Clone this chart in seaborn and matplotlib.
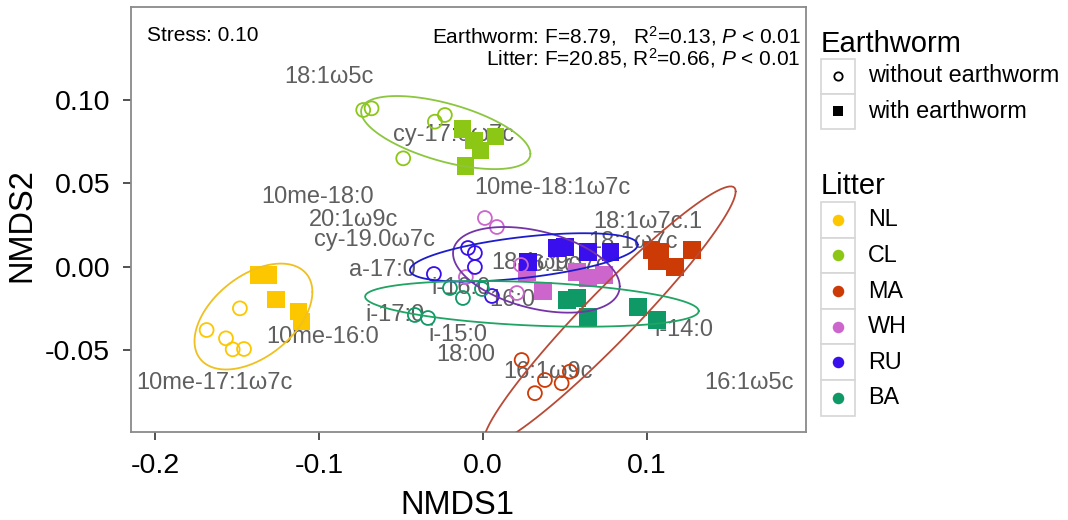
import numpy as np
import pandas as pd
import matplotlib
matplotlib.use("Agg")
import matplotlib.pyplot as plt
from matplotlib.patches import Rectangle
import seaborn as sns

# ---- data ----
litter_levels = ["NL", "CL", "MA", "WH", "RU", "BA"]
worm_levels = ["without earthworm", "with earthworm"]
worm = ["without earthworm"] * 5 + ["with earthworm"] * 5

# NMDS scores, first 5 = without earthworm, last 5 = with earthworm
NL_x = [-0.1685, -0.1482, -0.1567, -0.1526, -0.1457, -0.1370, -0.1309, -0.1262, -0.1126, -0.1105]
NL_y = [-0.0380, -0.0250, -0.0430, -0.0496, -0.0494, -0.0050, -0.0050, -0.0196, -0.0270, -0.0330]
CL_x = [-0.0730, -0.0679, -0.0293, -0.0232, -0.0486, -0.0126, 0.0077, -0.0055, -0.0014, -0.0105]
CL_y = [0.0940, 0.0950, 0.0870, 0.0910, 0.0650, 0.0826, 0.0780, 0.0756, 0.0696, 0.0604]
MA_x = [0.0236, 0.0378, 0.0480, 0.0530, 0.0317, 0.1030, 0.1079, 0.1061, 0.1171, 0.1274]
MA_y = [-0.0560, -0.0680, -0.0699, -0.0630, -0.0759, 0.0100, 0.0088, 0.0034, -0.0002, 0.0100]
WH_x = [0.0012, 0.0085, -0.0104, 0.0232, 0.0207, 0.0268, 0.0366, 0.0573, 0.0640, 0.0738]
WH_y = [0.0292, 0.0238, -0.0062, 0.0010, -0.0158, -0.0032, -0.0146, -0.0032, -0.0068, -0.0050]
RU_x = [-0.0091, -0.0049, -0.0049, -0.0299, 0.0055, 0.0274, 0.0451, 0.0500, 0.0640, 0.0780]
RU_y = [0.0112, 0.0082, -0.0002, -0.0044, -0.0176, 0.0028, 0.0112, 0.0118, 0.0088, 0.0088]
BA_x = [-0.0201, -0.0122, -0.0006, -0.0415, -0.0335, 0.0512, 0.0573, 0.0640, 0.0945, 0.1061]
BA_y = [-0.0128, -0.0188, -0.0134, -0.0290, -0.0308, -0.0200, -0.0188, -0.0302, -0.0242, -0.0320]

# PLFA species scores (text labels)
plfa = ["18:1ω5c", "cy-17:0ω7c", "10me-18:1ω7c", "10me-18:0", "20:1ω9c", "cy-19.0ω7c",
        "a-17:0", "i-16:0", "16:0", "18:1ω9c", "16:1ω7c", "18:1ω7c.1", "18:1ω7c",
        "i-17:0", "i-15:0", "18:00", "10me-16:0", "10me-17:1ω7c", "16:1ω9c", "i-14:0", "16:1ω5c"]
plfa_x = [-0.0939, -0.0177, 0.0421, -0.1006, -0.0787, -0.0659,
          -0.0610, -0.0134, 0.0177, 0.0323, 0.0488, 0.1006, 0.0915,
          -0.0537, -0.0152, -0.0104, -0.0976, -0.1640, 0.0396, 0.1226, 0.1622]
plfa_y = [0.1138, 0.0790, 0.0472, 0.0418, 0.0280, 0.0160,
          -0.0020, -0.0130, -0.0200, 0.0022, 0.0010, 0.0268, 0.0148,
          -0.0290, -0.0410, -0.0530, -0.0422, -0.0698, -0.0632, -0.0380, -0.0698]

stress_txt = "Stress: 0.10"
worm_txt = "Earthworm: F=8.79,   R$^2$=0.13, $P$ < 0.01"
litter_txt = "Litter: F=20.85, R$^2$=0.66, $P$ < 0.01"

point_colors = ["#FDC700", "#8DC716", "#CC3A06", "#CC66CC", "#3A0FEE", "#0F9966"]
line_colors = ["#F0C020", "#8CC63E", "#B84A36", "#7434A8", "#1C1CCC", "#1FA463"]

frames = []
for lev, xs, ys in zip(litter_levels, [NL_x, CL_x, MA_x, WH_x, RU_x, BA_x],
                       [NL_y, CL_y, MA_y, WH_y, RU_y, BA_y]):
    frames.append(pd.DataFrame({"NMDS1": xs, "NMDS2": ys, "Litter": lev, "Earthworm": worm}))
df = pd.concat(frames, ignore_index=True)


def t_ellipse(x, y, level=0.83, nu=5, segments=100):
    # same recipe as ggplot2 stat_ellipse (type = "t"): robust cov.trob + F radius
    pts = np.column_stack([x, y])
    n, p = pts.shape
    w = np.ones(n)
    loc = pts.mean(axis=0)
    for _ in range(25):
        w0 = w
        X = pts - loc
        S = (X * (w / w.sum())[:, None]).T @ X
        Q = np.einsum("ij,jk,ik->i", X, np.linalg.inv(S), X)
        w = (nu + p) / (nu + Q)
        loc = (w[:, None] * pts).sum(0) / w.sum()
        if np.all(np.abs(w - w0) < 0.01):
            break
    cov = (X * w[:, None]).T @ X / n
    d = n - 1
    fq = d / 2 * ((1 - level) ** (-2 / d) - 1)
    radius = np.sqrt(2 * fq)
    ang = np.linspace(0, 2 * np.pi, segments + 1)
    circle = np.column_stack([np.cos(ang), np.sin(ang)])
    L = np.linalg.cholesky(cov)
    e = loc + radius * circle @ L.T
    return e[:, 0], e[:, 1]


sns.set_theme(style="white")
plt.rcParams["font.family"] = ["Liberation Sans", "DejaVu Sans"]
plt.rcParams["mathtext.fontset"] = "custom"
plt.rcParams["mathtext.rm"] = "Liberation Sans"
plt.rcParams["mathtext.it"] = "Liberation Sans:italic"
plt.rcParams["text.color"] = "black"
plt.rcParams["axes.labelcolor"] = "black"

W, H = 1068, 520
fig = plt.figure(figsize=(W / 100, H / 100), dpi=100)
ax = fig.add_axes([131 / W, 1 - 432 / H, 675 / W, 425 / H])

# PLFA labels
for lab, lx, ly in zip(plfa, plfa_x, plfa_y):
    ax.text(lx, ly, lab, color="#5f5f5f", fontsize=17, ha="center", va="center", zorder=1)

pal = dict(zip(litter_levels, point_colors))
sq = df[df["Earthworm"] == "with earthworm"]
ci = df[df["Earthworm"] == "without earthworm"]
sns.scatterplot(data=sq, x="NMDS1", y="NMDS2", hue="Litter", hue_order=litter_levels,
                palette=pal, marker="s", s=155, linewidth=0, legend=False, ax=ax, zorder=2)
sns.scatterplot(data=ci, x="NMDS1", y="NMDS2", hue="Litter", hue_order=litter_levels,
                palette=pal, marker="o", s=100, legend=False, ax=ax, zorder=2)
circ = ax.collections[-1]
circ.set_edgecolors(circ.get_facecolors())
circ.set_facecolors("none")
circ.set_linewidths(1.3)

for lev, lc in zip(litter_levels, line_colors):
    g = df[df["Litter"] == lev]
    ex, ey = t_ellipse(g["NMDS1"].values, g["NMDS2"].values)
    ax.plot(ex, ey, color=lc, lw=1.3, zorder=3)

ax.set_xlim(-0.2146, 0.1970)
ax.set_ylim(-0.0992, 0.1558)
ax.set_xticks([-0.2, -0.1, 0.0, 0.1])
ax.set_xticklabels(["-0.2", "-0.1", "0.0", "0.1"])
ax.set_yticks([-0.05, 0.0, 0.05, 0.10])
ax.set_yticklabels(["-0.05", "0.00", "0.05", "0.10"])
ax.tick_params(axis="both", direction="out", length=6, width=1.1, color="#222222",
               labelsize=20.5, labelcolor="black", pad=9, bottom=True, left=True)
for sp in ax.spines.values():
    sp.set_color("#8a8a8a")
    sp.set_linewidth(1.3)
ax.set_xlabel("NMDS1", fontsize=23.5, color="black")
ax.set_ylabel("NMDS2", fontsize=23.5, color="black")
ax.xaxis.set_label_coords(0.484, -0.136)
ax.yaxis.set_label_coords(-0.139, 0.487)

ax.text(0.0237, 0.932, stress_txt, transform=ax.transAxes, fontsize=15, ha="left", va="center")
ax.text(0.9926, 0.932, worm_txt, transform=ax.transAxes, fontsize=15, ha="right", va="center")
ax.text(0.9926, 0.880, litter_txt, transform=ax.transAxes, fontsize=15, ha="right", va="center")

# ---- ggplot-like legends on the right ----
lg = fig.add_axes([0, 0, 1, 1])
lg.set_xlim(0, W)
lg.set_ylim(H, 0)
lg.axis("off")

lg.text(821, 44, "Earthworm", fontsize=21, ha="left", va="center")
kh = 35
for i, (lab, mk) in enumerate(zip(worm_levels, ["o", "s"])):
    top = 58.5 + i * kh
    lg.add_patch(Rectangle((821, top), 34, kh, facecolor="white", edgecolor="#d6d6d6", lw=1.2))
    if mk == "o":
        lg.plot(838, top + kh / 2, marker="o", ms=6, mfc="none", mec="black", mew=1.3)
    else:
        lg.plot(838, top + kh / 2, marker="s", ms=6.5, mfc="black", mec="black", mew=0)
    lg.text(868, top + kh / 2, lab, fontsize=16.8, ha="left", va="center")

lg.text(821, 186, "Litter", fontsize=21, ha="left", va="center")
kh2 = 35.6
for i, (lab, col) in enumerate(zip(litter_levels, point_colors)):
    top = 202 + i * kh2
    lg.add_patch(Rectangle((821, top), 34, kh2, facecolor="white", edgecolor="#d6d6d6", lw=1.2))
    lg.plot(838, top + kh2 / 2, marker="o", ms=8.3, mfc=col, mec=col, mew=0)
    lg.text(868, top + kh2 / 2, lab, fontsize=16.8, ha="left", va="center")

fig.savefig("out.png", dpi=100)
